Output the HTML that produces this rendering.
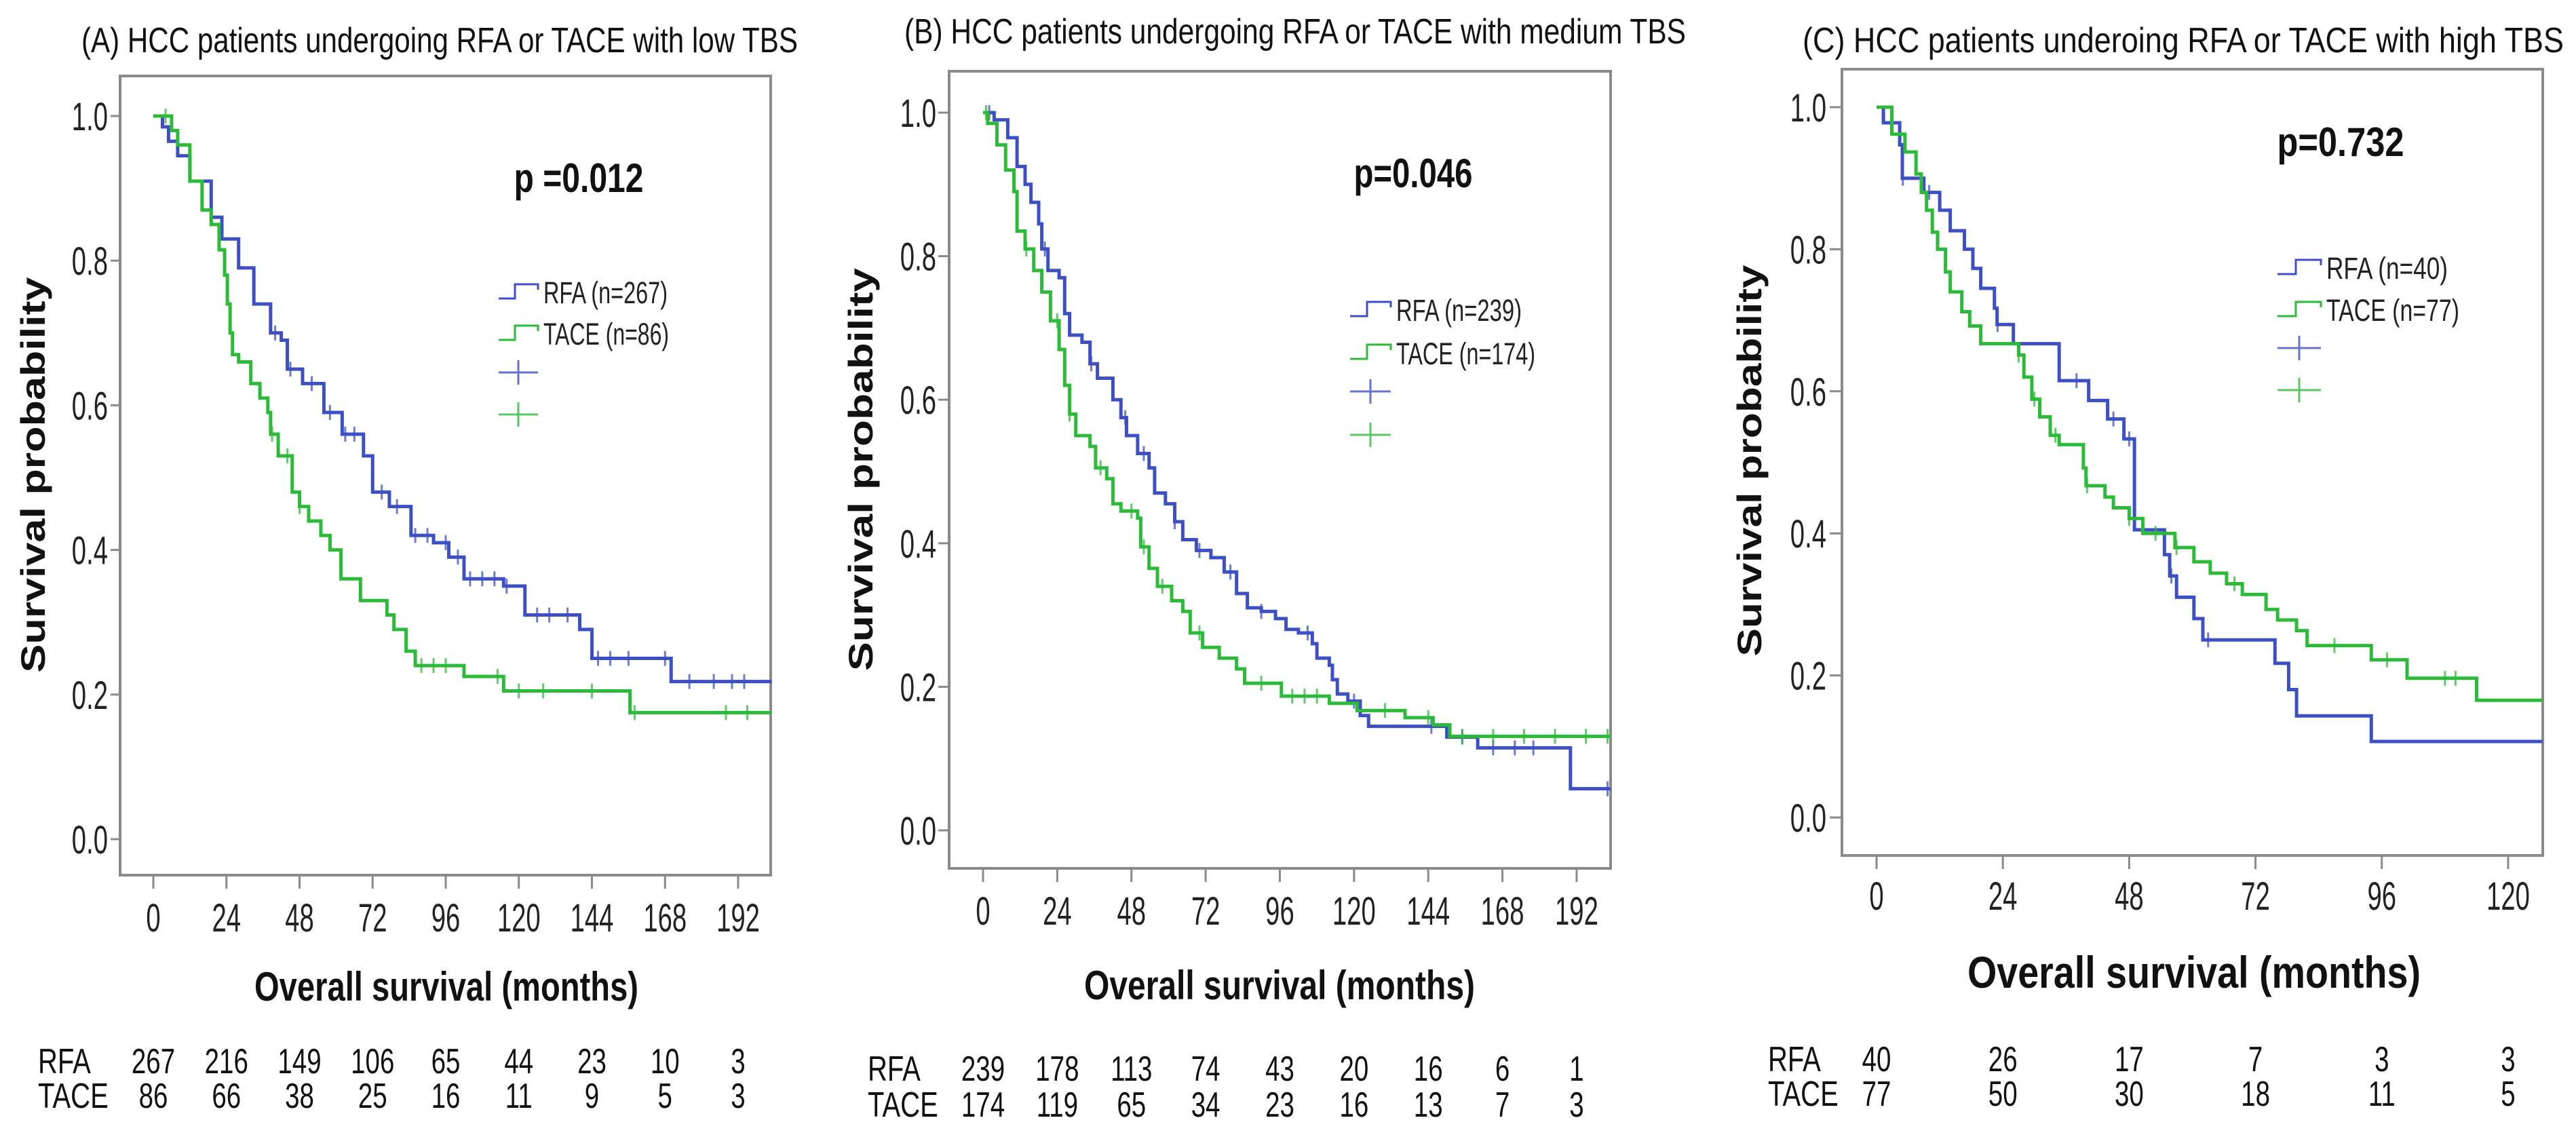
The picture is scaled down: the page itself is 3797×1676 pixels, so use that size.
<!DOCTYPE html>
<html><head><meta charset="utf-8"><style>html,body{margin:0;padding:0;background:#fff}svg{display:block}</style></head>
<body>
<svg id="fig" xmlns="http://www.w3.org/2000/svg" width="3797" height="1676" viewBox="0 0 3797 1676" font-family="Liberation Sans, Arial, sans-serif">
<rect width="3797" height="1676" fill="#fff"/>
</svg>
<script>
// ---- data ----
const xTicksAB=[0,24,48,72,96,120,144,168,192];
const xTicksC=[0,24,48,72,96,120];
const yTicks=[0,0.2,0.4,0.6,0.8,1.0];
const yTickLabels=["0.0","0.2","0.4","0.6","0.8","1.0"];

const aRfaT=[3,5,8,12,19,22.5,28,33,38.5,42,44,49,56,62,69,72,77.5,84.6,92,97,102,115,122,140,144,170];
const aRfaS=[.985,.965,.945,.91,.86,.83,.79,.74,.70,.69,.65,.63,.59,.56,.53,.48,.46,.42,.41,.39,.36,.35,.31,.29,.25,.218];
const aRfaCens=[40,45,52,58,63,66,75,80,86,90,96,100,104,108,112,116,126,130,136,146,150,156,168,176,184,190,194];
const aTaceT=[6,8,12,16,19,21.6,23.4,24.3,25.2,26,28,32,35,37.6,38.5,41,45.6,48,51,55,58,61.6,68,76.7,79,83,86,102,115,156.5];
const aTaceS=[.98,.96,.91,.87,.85,.815,.78,.74,.70,.67,.66,.63,.61,.59,.56,.53,.48,.46,.44,.42,.40,.36,.33,.31,.29,.26,.24,.225,.205,.175];
const aTaceCens=[4,39,44,48,88,92,96,113,120,128,144,158,188,195];
const aRiskRfa=[267,216,149,106,65,44,23,10,3];
const aRiskTace=[86,66,38,25,16,11,9,5,3];

const bRfaT=[3.6,8,11,13.6,15.5,18,19,21,24.6,26.4,28,32,34.6,37,42,44.6,46.4,50,53.7,55.5,59,62,64.6,69,73.7,78,82,85.5,90,94.6,98,102,106.5,108,112,113,114.6,118,122,124.7,150,160,190];
const bRfaS=[.99,.965,.925,.90,.875,.845,.81,.78,.77,.72,.69,.68,.65,.63,.60,.575,.55,.525,.505,.47,.455,.43,.405,.39,.38,.36,.33,.31,.305,.295,.28,.275,.26,.24,.23,.21,.19,.18,.16,.145,.13,.115,.058];
const bRfaCens=[2,20,35,46,52,62,70,80,90,105,120,145,155,165,172,178,202];
const bTaceT=[1.5,4.5,7.3,10,11,13.6,16.4,19,21.8,24.6,26.4,28,30,34.6,36.4,40,42,44.6,50,51,53.7,56.4,61,64.6,67,71,76.4,82,84.6,96.5,112,121,136.5,145.6,151];
const bTaceS=[.985,.955,.92,.89,.835,.81,.78,.75,.71,.67,.62,.58,.55,.535,.505,.49,.455,.445,.435,.395,.365,.34,.32,.305,.275,.255,.24,.225,.205,.187,.177,.167,.157,.147,.131];
const bTaceCens=[1,14,24,28,38,48,52,58,70,90,100,104,108,130,144,155,165,175,185,195,202];
const bRiskRfa=[239,178,113,74,43,20,16,6,1];
const bRiskTace=[174,119,65,34,23,16,13,7,3];

const cRfaT=[1.3,4.4,4.9,9,12,14,16.7,18.3,19.8,22.4,22.9,26,34.7,40.3,43.9,47,49,54.7,55.7,57,60.3,62,75.7,78.3,79.8,94];
const cRfaS=[.978,.947,.90,.88,.855,.826,.80,.773,.745,.717,.694,.667,.615,.587,.561,.533,.405,.37,.34,.31,.28,.25,.217,.18,.143,.107];
const cRfaCens=[5,10,23,38,45,48,56,63];
const cTaceT=[2.9,5.4,7.5,8.5,9.5,10.6,11.6,13.1,14,16.2,17.7,19.8,27,28,29.5,31,33,34.7,39.3,39.8,43.4,45,48,50.6,56.7,60.3,63.4,66.5,69.5,74,76.2,79.8,81.8,94,100.8,114];
const cTaceS=[.962,.937,.906,.88,.855,.824,.80,.768,.74,.712,.692,.667,.651,.62,.589,.564,.538,.525,.492,.467,.451,.436,.421,.40,.38,.36,.344,.329,.314,.293,.278,.263,.242,.222,.196,.165];
const cTaceCens=[27,30,34,40,48,53,57,68,87,97,108,110];
const cRiskRfa=[40,26,17,7,3,3];
const cRiskTace=[77,50,30,18,11,5];

// ---- layout ----
const NS="http://www.w3.org/2000/svg";
const svg=document.getElementById('fig');
const BLUE="#3d4fc4", GREEN="#2cbb38";
function mk(tag,attrs,parent){const e=document.createElementNS(NS,tag);for(const k in attrs)e.setAttribute(k,attrs[k]);(parent||svg).appendChild(e);return e;}
function txt(parent,name,x,y,str,size,opts){
  opts=opts||{};
  const t=document.createElementNS(NS,'text');
  
  
  t.setAttribute('font-size',size);
  t.setAttribute('fill',opts.fill||'#111');
  if(opts.bold)t.setAttribute('font-weight','bold');
  t.setAttribute('text-anchor',opts.anchor||'start');
  let tr='translate('+x+','+y+')';
  if(opts.rot)tr+=' rotate('+opts.rot+')';
  if(opts.sx)tr+=' scale('+opts.sx+',1)';
  t.setAttribute('transform',tr);
  if(opts.len){t.setAttribute('textLength',opts.len);t.setAttribute('lengthAdjust','spacingAndGlyphs');}
  t.textContent=str;
  parent.appendChild(t);
  return t;
}

const panels=[
 {id:'a',box:[177,112,1136,1290],x0:226,pxm:4.4896,ys0:1237,ys1:171,xmax:203,xt:xTicksAB,
  title:"(A) HCC patients undergoing RFA or TACE  with low TBS",tX:120,tW:1056,tY:77,
  yLabR:159,tickL:163,xLabY:1373,yT:[66,700,583],xT:[658,1475,566,60],p:["p =0.012",853,283,191],
  leg:{x0:735,x1:793,tx:801,c:[431,492,549,611],b:[447,508],w:[183,185]},
  rfa:[aRfaT,aRfaS,aRfaCens,"RFA (n=267)"],tace:[aTaceT,aTaceS,aTaceCens,"TACE (n=86)"],
  risk:[aRiskRfa,aRiskTace],rl:56,rb:[1582,1633]},
 {id:'b',box:[1399,105,2374,1280],x0:1449,pxm:4.557,ys0:1224,ys1:166,xmax:203,xt:xTicksAB,
  title:"(B) HCC patients undergoing RFA or TACE with medium TBS",tX:1333,tW:1152,tY:64,
  yLabR:1380,tickL:1383,xLabY:1363,yT:[1286,692,594],xT:[1886,1473,576,60],p:["p=0.046",2083,276,175],
  leg:{x0:1990,x1:2050,tx:2058,c:[457,520,577,641],b:[473,537],w:[185,205]},
  rfa:[bRfaT,bRfaS,bRfaCens,"RFA (n=239)"],tace:[bTaceT,bTaceS,bTaceCens,"TACE (n=174)"],
  risk:[bRiskRfa,bRiskTace],rl:1279,rb:[1593,1646]},
 {id:'c',box:[2715,102,3748,1261],x0:2766,pxm:7.758,ys0:1205,ys1:158,xmax:126.5,xt:xTicksC,
  title:"(C) HCC patients underoing RFA or TACE with high TBS",tX:2657,tW:1122,tY:77,
  yLabR:2692,tickL:2697,xLabY:1341,yT:[2596,679,577],xT:[3234,1456,668,66],p:["p=0.732",3450,230,187],
  leg:{x0:3357,x1:3421,tx:3429,c:[395,457,513,575],b:[411,473],w:[179,196]},
  rfa:[cRfaT,cRfaS,cRfaCens,"RFA (n=40)"],tace:[cTaceT,cTaceS,cTaceCens,"TACE (n=77)"],
  risk:[cRiskRfa,cRiskTace],rl:2606,rb:[1579,1630]}
];

panels.forEach(P=>{
  const g=mk('g',{});
  
  
  const X=m=>P.x0+m*P.pxm;
  const Y=s=>P.ys0-s*(P.ys0-P.ys1);
  const [bl,bt,br,bb]=P.box;
  txt(g,'panel-title',P.tX,P.tY,P.title,52,{len:P.tW});
  const box=mk('rect',{x:bl,y:bt,width:br-bl,height:bb-bt,fill:'none',stroke:'#8a8a8a','stroke-width':4},g);
  
  
  // y ticks
  yTicks.forEach((v,i)=>{
    const tk=mk('line',{x1:P.tickL,x2:bl,y1:Y(v),y2:Y(v),stroke:'#8a8a8a','stroke-width':3},g);
    
    
    txt(g,'y-tick-label',P.yLabR,Y(v)+21,yTickLabels[i],58,{anchor:'end',sx:0.66,fill:'#222'});
  });
  // x ticks
  P.xt.forEach(v=>{
    const tk=mk('line',{x1:X(v),x2:X(v),y1:bb,y2:bb+20,stroke:'#8a8a8a','stroke-width':3},g);
    
    
    txt(g,'x-tick-label',X(v),P.xLabY,String(v),58,{anchor:'middle',sx:0.66,fill:'#222'});
  });
  txt(g,'y-axis-title',P.yT[0],P.yT[1],'Survival probability',50,{anchor:'middle',rot:-90,bold:true,len:P.yT[2]});
  txt(g,'x-axis-title',P.xT[0],P.xT[1],'Overall survival (months)',P.xT[3],{anchor:'middle',bold:true,len:P.xT[2]});
  txt(g,'p-value',P.p[1],P.p[2],P.p[0],60,{anchor:'middle',bold:true,len:P.p[3]});
  // curves
  [[P.rfa,BLUE,'rfa'],[P.tace,GREEN,'tace']].forEach(([c,col,nm])=>{
    const T=c[0],S=c[1],C=c[2];
    let d='M'+X(0)+','+Y(1);let cur=1;
    for(let i=0;i<T.length;i++){d+=' H'+X(T[i])+' V'+Y(S[i]);cur=S[i];}
    d+=' H'+X(P.xmax);
    const p=mk('path',{d:d,fill:'none',stroke:col,'stroke-width':5,'stroke-linejoin':'miter'},g);
    
    
    const sAt=t=>{let s=1;for(let i=0;i<T.length;i++){if(T[i]<=t)s=S[i];}return s;};
    C.forEach(t=>{
      const cm=mk('line',{x1:X(t),x2:X(t),y1:Y(sAt(t))-11,y2:Y(sAt(t))+11,stroke:col,'stroke-width':3,opacity:0.75},g);
      
      
    });
  });
  // legend
  const L=P.leg, xm=(L.x0+L.x1)/2;
  [[BLUE,P.rfa[3],0],[GREEN,P.tace[3],1]].forEach(([col,lab,i])=>{
    const cy=L.c[i];
    const sym=mk('path',{d:'M'+L.x0+','+(cy+9)+' H'+(xm-5)+' V'+(cy-12)+' H'+L.x1+' V'+(cy-4),fill:'none',stroke:col,'stroke-width':3},g);
    
    
    txt(g,'legend-label',L.tx,L.b[i],lab,45,{len:L.w[i],fill:'#222'});
    const py=L.c[2+i];
    const ph=mk('path',{d:'M'+L.x0+','+py+' H'+L.x1+' M'+xm+','+(py-18)+' V'+(py+18),fill:'none',stroke:col,'stroke-width':3,opacity:0.8},g);
    
    
  });
  // risk table
  txt(g,'risk-label-rfa',P.rl,P.rb[0],'RFA',52,{sx:0.77});
  txt(g,'risk-label-tace',P.rl,P.rb[1],'TACE',52,{sx:0.77});
  P.xt.forEach((v,i)=>{
    txt(g,'risk-rfa-value',X(v),P.rb[0],String(P.risk[0][i]),52,{anchor:'middle',sx:0.74});
    txt(g,'risk-tace-value',X(v),P.rb[1],String(P.risk[1][i]),52,{anchor:'middle',sx:0.74});
  });
});
</script>
</body></html>
